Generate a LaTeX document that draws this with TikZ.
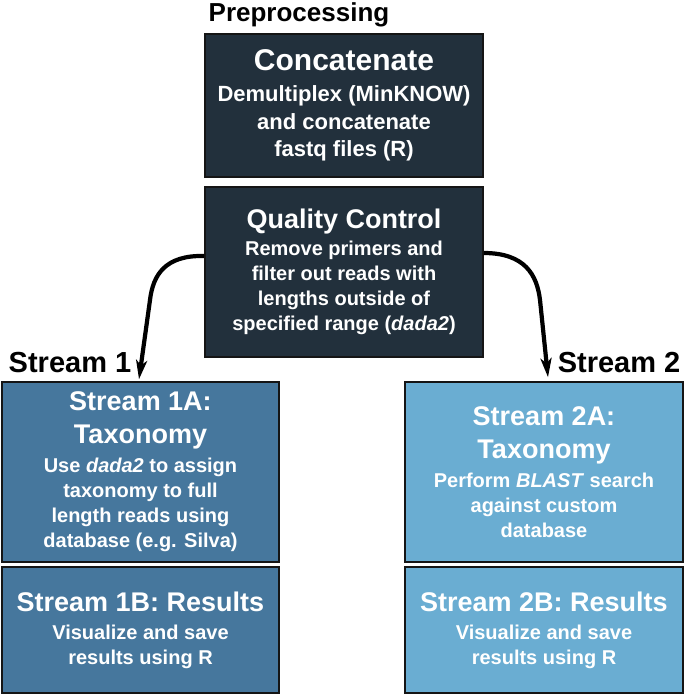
\documentclass[tikz,border=0pt]{standalone}
\usepackage{fontspec}
\setmainfont{Liberation Sans}
\usetikzlibrary{arrows.meta}
\definecolor{darkbox}{HTML}{22303C}
\definecolor{streamone}{HTML}{46779D}
\definecolor{streamtwo}{HTML}{6AADD2}
\definecolor{edge}{HTML}{151515}
\tikzset{
  box/.style={draw=edge, line width=1.5pt, text=white, inner sep=0pt,
    minimum width=#1pt, text width=#1pt, align=flush center, font=\bfseries},
  lbl/.style={font=\bfseries\fontsize{29}{33}\selectfont, inner sep=0pt, anchor=base},
  flow/.style={line width=4.2pt, -{Stealth[length=19pt,width=11pt,inset=5pt]}}
}
\begin{document}
\begin{tikzpicture}[x=1pt,y=-1pt]
\useasboundingbox (0,0) rectangle (685,695);
% boxes
\node[box=278, fill=darkbox, minimum height=143pt] (conc) at (344,105.5)
  {{\fontsize{30}{33}\selectfont Concatenate\par}\vspace{3.5pt}%
   {\fontsize{22}{27.5}\selectfont Demultiplex (MinKNOW)\\and concatenate\\fastq files (R)\par}};
\node[box=278, fill=darkbox, minimum height=170pt] (qc) at (344,272)
  {{\fontsize{27}{33}\selectfont Quality Control\par}\vspace{2pt}%
   {\fontsize{20}{25}\selectfont Remove primers and\\filter out reads with\\lengths outside of\\specified range (\textit{dada2})\par}};
\node[box=277, fill=streamone, minimum height=180pt] (s1a) at (140.5,472)
  {{\fontsize{27}{33}\selectfont Stream 1A:\\Taxonomy\par}\vspace{4pt}%
   {\fontsize{20}{25}\selectfont Use \textit{dada2} to assign\\taxonomy to full\\length reads using\\database (e.g. Silva)\par}};
\node[box=277, fill=streamone, minimum height=126pt] (s1b) at (140.5,630)
  {{\fontsize{27}{33}\selectfont Stream 1B: Results\par}\vspace{3pt}%
   {\fontsize{20}{25}\selectfont Visualize and save\\results using R\par}};
\node[box=278, fill=streamtwo, minimum height=180pt] (s2a) at (544,472)
  {{\fontsize{27}{33}\selectfont Stream 2A:\\Taxonomy\par}\vspace{4pt}%
   {\fontsize{20}{25}\selectfont Perform \textit{BLAST} search\\against custom\\database\par}};
\node[box=278, fill=streamtwo, minimum height=126pt] (s2b) at (544,630)
  {{\fontsize{27}{33}\selectfont Stream 2B: Results\par}\vspace{3pt}%
   {\fontsize{20}{25}\selectfont Visualize and save\\results using R\par}};
% labels
\node[lbl, font=\bfseries\fontsize{26}{30}\selectfont] (pre) at (299,22) {Preprocessing};
\node[lbl] (l1) at (70,372) {Stream 1};
\node[lbl] (l2) at (619,372) {Stream 2};
% arrows
\draw[flow] ([yshift=16pt]qc.west) .. controls (165,255) and (153,275) .. (150,300)
  -- ([xshift=-1.5pt,yshift=2pt]s1a.north);
\draw[flow] ([yshift=19pt]qc.east) .. controls (525,253) and (537,275) .. (540,300)
  -- ([xshift=4pt,yshift=4pt]s2a.north);
\end{tikzpicture}
\end{document}
